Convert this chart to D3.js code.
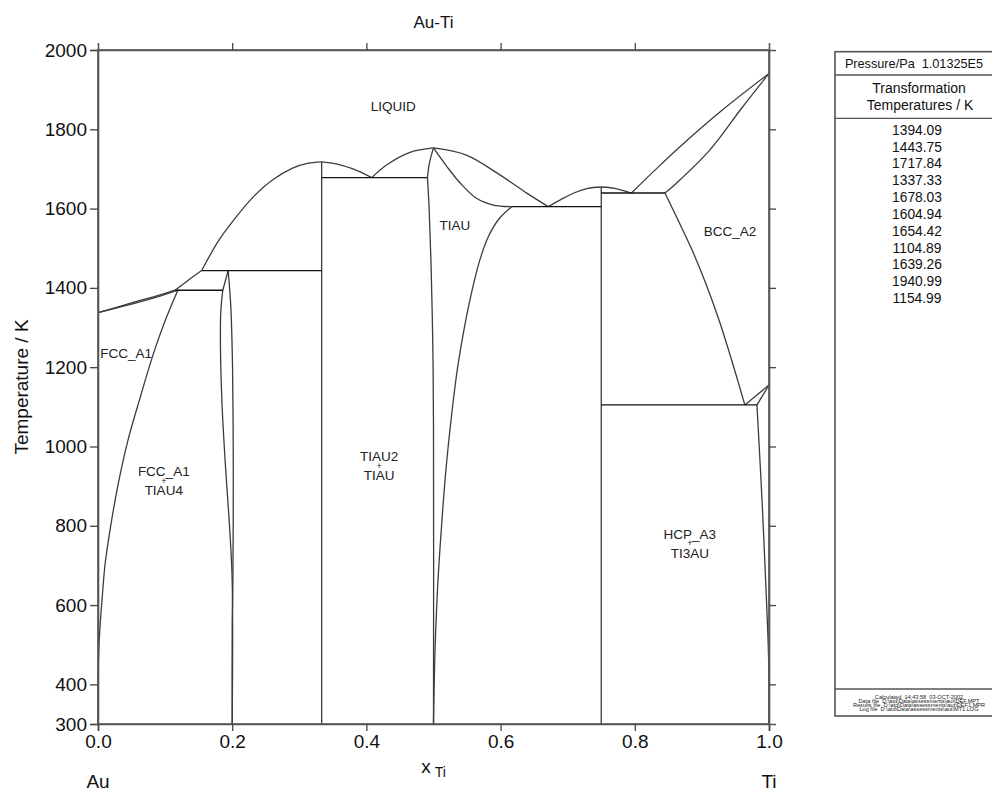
<!DOCTYPE html>
<html><head><meta charset="utf-8">
<script src="https://cdn.jsdelivr.net/npm/d3@7"></script>
<style>
body{margin:0;background:#fff;}
svg{display:block;font-family:"Liberation Sans",Arial,sans-serif;}
</style></head><body>
<svg id="chart" width="992" height="794"></svg>
<script>
// ---- Au-Ti phase diagram, P = 1 atm ----
const xTicks = [0, 0.2, 0.4, 0.6, 0.8, 1.0];
const tTicks = [300, 400, 600, 800, 1000, 1200, 1400, 1600, 1800, 2000];
const rightTicks = [400, 600, 800, 1000, 1200, 1400, 1600, 1800];
const topTicks = [0.2, 0.4, 0.6, 0.8];
const transformationTemps = ["1394.09","1443.75","1717.84","1337.33","1678.03","1604.94","1654.42","1104.89","1639.26","1940.99","1154.99"];
const pressureLabel = "Pressure/Pa  1.01325E5";
const footerLines = [
  "Calculated  14:43:58  03-OCT-2002",
  "Data file  D:\\atd\\Data\\assessments\\aut\\DEF.MPT",
  "Results file  D:\\atd\\Data\\assessments\\aut\\DEF1.MPR",
  "Log file  D:\\atd\\Data\\assessments\\aut\\MT1.LOG"
];

// phase boundaries, points are [x_Ti, T/K]
const fccLiquidus   = [[0,1337.33],[0.05,1362],[0.09,1381],[0.115,1394.09]];
const fccSolidus    = [[0,1337.33],[0.05,1359],[0.09,1378],[0.119,1394.09]];
const fccSolvus     = [[0.119,1394.09],[0.0993,1314],[0.082,1231],[0.0626,1122],[0.0447,1016],[0.0298,903],[0.0179,789],[0.0104,701],[0.006,613],[0.0027,537],[0.0007,461],[0.00015,386],[0,300]];
const liqTiAu4      = [[0.115,1394.09],[0.135,1420],[0.1545,1443.75]];
const liqTiAu2Left  = [[0.1545,1443.75],[0.18,1520],[0.2,1566],[0.23,1627],[0.26,1672],[0.29,1702],[0.312,1714],[0.3333,1717.84]];
const liqTiAu2Right = [[0.3333,1717.84],[0.355,1713],[0.38,1700],[0.408,1678.03]];
const liqTiAuLeft   = [[0.408,1678.03],[0.43,1710],[0.465,1742],[0.5,1753]];
const solTiAuLeft   = [[0.491,1678.03],[0.494,1715],[0.5,1753]];
const solvTiAuLeft  = [[0.491,1678.03],[0.4935,1600],[0.4965,1450],[0.499,1250],[0.5,1050],[0.5,300]];
const liqTiAuRight  = [[0.5,1753],[0.549,1735],[0.599,1685],[0.639,1639],[0.671,1604.94]];
const solTiAuRight  = [[0.5,1753],[0.52,1706],[0.54,1664],[0.564,1626],[0.589,1609],[0.6165,1604.94]];
const solvTiAuRight = [[0.6165,1604.94],[0.598,1575],[0.582,1530],[0.569,1470],[0.557,1390],[0.546,1300],[0.536,1200],[0.527,1080],[0.519,950],[0.512,800],[0.506,640],[0.502,470],[0.5,300]];
const liqTi3AuLeft  = [[0.671,1604.94],[0.689,1622],[0.71,1640],[0.73,1651],[0.75,1654.42]];
const liqTi3AuRight = [[0.75,1654.42],[0.77,1651],[0.795,1639.26]];
const bccLiquidus   = [[0.795,1639.26],[0.83,1697],[0.862,1748],[0.93,1848],[1,1940.99]];
const bccSolidus    = [[0.845,1639.26],[0.862,1664],[0.912,1748],[0.96,1855],[1,1940.99]];
const bccSolvus     = [[0.845,1639.26],[0.8644,1571],[0.8852,1496],[0.9061,1410],[0.9255,1319],[0.9434,1223],[0.964,1104.89]];
const bccTransus    = [[0.964,1104.89],[1,1154.99]];
const hcpTransus    = [[0.982,1104.89],[1,1154.99]];
const hcpSolvus     = [[0.982,1104.89],[0.9865,966],[0.99,850],[0.994,700],[0.997,580],[0.9995,460],[1,300]];
const tiau4Top      = [[0.186,1394.09],[0.194,1443.75]];
const tiau4Left     = [[0.186,1394.09],[0.183,1340],[0.1825,1250],[0.185,1100],[0.19,950],[0.196,800],[0.2,660],[0.2,300]];
const tiau4Right    = [[0.194,1443.75],[0.198,1350],[0.2005,1200],[0.2015,1000],[0.2015,800],[0.201,650],[0.2,550],[0.2,300]];
const tiau2Line     = [[0.3333,300],[0.3333,1717.84]];
const ti3auLine     = [[0.75,300],[0.75,1654.42]];

// invariant reactions: [T, x from, x to]
const invariants = [
  [1394.09, 0.115, 0.186],
  [1443.75, 0.1545, 0.3333],
  [1678.03, 0.3333, 0.491],
  [1604.94, 0.6165, 0.75],
  [1639.26, 0.75, 0.845],
  [1104.89, 0.75, 0.982]
];

const phaseLabels = [
  {lines:["LIQUID"], x:0.44, T:1857},
  {lines:["TIAU"], x:0.532, T:1559},
  {lines:["BCC_A2"], x:0.942, T:1542},
  {lines:["FCC_A1"], x:0.042, T:1236},
  {lines:["FCC_A1","+","TIAU4"], x:0.098, T:915},
  {lines:["TIAU2","+","TIAU"], x:0.419, T:953},
  {lines:["HCP_A3","+","TI3AU"], x:0.882, T:757}
];

// ---- drawing ----
const svg = d3.select("#chart");
const x = d3.scaleLinear().domain([0,1]).range([98,769]);
const y = d3.scaleLinear().domain([300,2000]).range([724,50]);
const fontAxis = 19;

const boundaries = [fccLiquidus, fccSolidus, fccSolvus, liqTiAu4, liqTiAu2Left, liqTiAu2Right,
  liqTiAuLeft, solTiAuLeft, solvTiAuLeft, liqTiAuRight, solTiAuRight, solvTiAuRight,
  liqTi3AuLeft, liqTi3AuRight, bccLiquidus, bccSolidus, bccSolvus, bccTransus, hcpTransus,
  hcpSolvus, tiau4Top, tiau4Left, tiau4Right, tiau2Line, ti3auLine];

const line = d3.line().x(d => x(d[0])).y(d => y(d[1])).curve(d3.curveCatmullRom.alpha(0.5));

svg.append("g").selectAll("path").data(boundaries).join("path")
  .attr("d", line).attr("fill","none").attr("stroke","#3c3c3c").attr("stroke-width",1.3);

svg.append("g").selectAll("line").data(invariants).join("line")
  .attr("x1", d => x(d[1])).attr("x2", d => x(d[2]))
  .attr("y1", d => y(d[0])).attr("y2", d => y(d[0]))
  .attr("stroke","#111").attr("stroke-width",1.3);

// frame and axes
const frame = svg.append("g").attr("stroke","#555").attr("stroke-width",1.6);
frame.append("rect").attr("x",x(0)).attr("y",y(2000)).attr("width",x(1)-x(0)).attr("height",y(300)-y(2000)).attr("fill","none");

const axisLeft = d3.axisLeft(y).tickValues(tTicks).tickSize(8).tickPadding(3).tickFormat(d3.format("d"));
const gl = svg.append("g").attr("transform",`translate(${x(0)},0)`).call(axisLeft);
const axisBottom = d3.axisBottom(x).tickValues(xTicks).tickSize(7).tickPadding(4).tickFormat(d3.format(".1f"));
const gb = svg.append("g").attr("transform",`translate(0,${y(300)})`).call(axisBottom);
const axisRight = d3.axisRight(y).tickValues(rightTicks).tickSize(7).tickFormat("");
const gr = svg.append("g").attr("transform",`translate(${x(1)},0)`).call(axisRight);
const axisTop = d3.axisTop(x).tickValues(topTicks).tickSize(7).tickFormat("");
const gt = svg.append("g").attr("transform",`translate(0,${y(2000)})`).call(axisTop);
[gl,gb,gr,gt].forEach(g => {
  g.select(".domain").attr("stroke","#555").attr("stroke-width",1.6);
  g.selectAll(".tick line").attr("stroke","#444").attr("stroke-width",1.3);
  g.selectAll(".tick text").attr("fill","#111").attr("font-size",fontAxis).attr("font-family","Liberation Sans, Arial, sans-serif");
});

// titles
svg.append("text").attr("x",(x(0)+x(1))/2).attr("y",28).attr("text-anchor","middle")
  .attr("font-size",17).attr("fill","#111").text("Au-Ti");
svg.append("text").attr("transform",`translate(28,${(y(300)+y(2000))/2}) rotate(-90)`)
  .attr("text-anchor","middle").attr("font-size",fontAxis).attr("fill","#111").text("Temperature / K");
const xl = svg.append("text").attr("x",(x(0)+x(1))/2).attr("y",773).attr("text-anchor","middle")
  .attr("font-size",fontAxis).attr("fill","#111");
xl.append("tspan").text("x");
xl.append("tspan").attr("dx",4).attr("dy",4).attr("font-size",14).text("Ti");
svg.append("text").attr("x",x(0)).attr("y",788).attr("text-anchor","middle").attr("font-size",fontAxis).attr("fill","#111").text("Au");
svg.append("text").attr("x",x(1)).attr("y",788).attr("text-anchor","middle").attr("font-size",fontAxis).attr("fill","#111").text("Ti");

// phase labels; two-phase fields are stacked "A / + / B"
const lab = svg.append("g").attr("font-size",13.5).attr("fill","#222").attr("text-anchor","middle");
phaseLabels.forEach(p => {
  if (p.lines.length === 1) {
    lab.append("text").attr("x",x(p.x)).attr("y",y(p.T)).attr("dy","0.35em").text(p.lines[0]);
  } else {
    lab.append("text").attr("x",x(p.x)).attr("y",y(p.T)-9).attr("dy","0.35em").text(p.lines[0]);
    lab.append("text").attr("x",x(p.x)).attr("y",y(p.T)+0.5).attr("dy","0.35em").attr("font-size",9).text(p.lines[1]);
    lab.append("text").attr("x",x(p.x)).attr("y",y(p.T)+10).attr("dy","0.35em").text(p.lines[2]);
  }
});

// side panel
const panel = svg.append("g");
const pl = 835, pt = 51.7, pb = 716, pc = 918;
panel.append("rect").attr("x",pl).attr("y",pt).attr("width",200).attr("height",pb-pt)
  .attr("fill","none").attr("stroke","#555").attr("stroke-width",1.6);
[75, 118.3, 689].forEach(v => panel.append("line").attr("x1",pl).attr("x2",1000).attr("y1",v).attr("y2",v)
  .attr("stroke","#555").attr("stroke-width",1.3));
panel.append("text").attr("x",pc-4).attr("y",64).attr("dy","0.35em").attr("text-anchor","middle")
  .attr("font-size",12.7).attr("fill","#111").attr("xml:space","preserve").text(pressureLabel);
panel.append("text").attr("x",pc+1).attr("y",88.3).attr("dy","0.35em").attr("text-anchor","middle")
  .attr("font-size",14).attr("fill","#111").text("Transformation");
panel.append("text").attr("x",pc+2).attr("y",105).attr("dy","0.35em").attr("text-anchor","middle")
  .attr("font-size",14).attr("fill","#111").text("Temperatures / K");
panel.append("g").selectAll("text").data(transformationTemps).join("text")
  .attr("x",pc-1).attr("y",(d,i) => 130 + i*16.83).attr("dy","0.35em").attr("text-anchor","middle")
  .attr("font-size",13.8).attr("fill","#111").text(d => d);
panel.append("g").selectAll("text").data(footerLines).join("text")
  .attr("x",pc+1).attr("y",(d,i) => 696.7 + i*4.1).attr("dy","0.35em").attr("text-anchor","middle")
  .attr("font-size",5.6).attr("fill","#222").attr("xml:space","preserve").text(d => d);
</script>
</body></html>
